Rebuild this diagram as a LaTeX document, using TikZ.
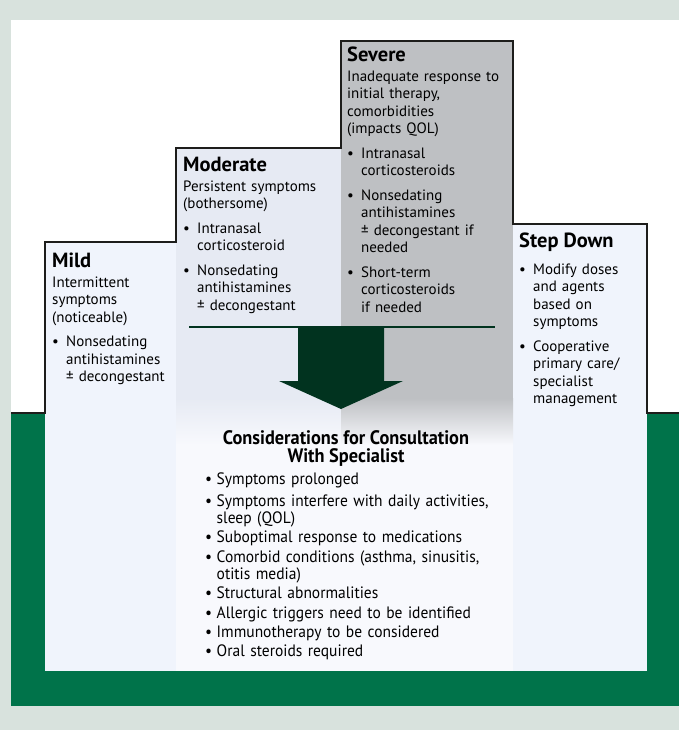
\documentclass[tikz,border=0pt]{standalone}
\usepackage{fontspec}
\setmainfont{PT Sans}
\newfontfamily\narrowfont[FakeStretch=0.94]{PT Sans}
\definecolor{bggray}{HTML}{D8E2DD}
\definecolor{panelgreen}{HTML}{00734A}
\definecolor{arrowgreen}{HTML}{01331F}
\definecolor{mildblue}{HTML}{F0F4FC}
\definecolor{modblue}{HTML}{E6EAF3}
\definecolor{sevgray}{HTML}{BEC0C3}
\definecolor{lowwhite}{HTML}{F8F9FD}
\definecolor{stairline}{HTML}{1D1D1B}
\newcommand{\coltitle}[1]{\noindent{\fontsize{20.5}{21}\selectfont\bfseries #1}\par\vspace{2pt}}
\newcommand{\bitem}{\vspace{7pt}\hangindent=14pt\hangafter=1\noindent\makebox[14pt][l]{\textbullet}}
\newcommand{\citem}{\vspace{2pt}\hangindent=11.5pt\hangafter=1\noindent\makebox[11.5pt][l]{\textbullet}}
\begin{document}
\begin{tikzpicture}[x=1pt,y=-1pt,
  coltext/.style={anchor=north west,inner sep=0pt,text width=#1,align=left,
    font=\fontsize{15}{17.5}\selectfont},
  constext/.style={anchor=north west,inner sep=0pt,text width=300pt,align=left,
    font=\narrowfont\fontsize{16.5}{17.3}\selectfont}]
\useasboundingbox (0,0) rectangle (679,730);
\fill[bggray] (0,0) rectangle (679,730);
\fill[white] (11,20) rectangle (679,413);
\fill[panelgreen] (11,413) rectangle (679,706);

\fill[mildblue] (45,242) rectangle (176,671);
\fill[mildblue] (513,224) rectangle (647,671);
\fill[modblue] (176,148) rectangle (341,398);
\fill[sevgray] (341,41) rectangle (513,398);
\shade[top color=modblue,bottom color=lowwhite] (176,398) rectangle (341,445);
\shade[top color=sevgray,bottom color=lowwhite] (341,398) rectangle (513,445);
\fill[lowwhite] (176,445) rectangle (513,671);

\draw[stairline,line width=2.5pt] (11,413) -- (45,413) -- (45,242) -- (176,242)
  -- (176,148) -- (341,148) -- (341,41) -- (513,41) -- (513,224) -- (647,224)
  -- (647,413) -- (679,413);

\draw[arrowgreen,line width=2pt] (189,327) -- (495,327);
\fill[arrowgreen] (298,327) -- (384,327) -- (384,381) -- (403,381) -- (341,409)
  -- (279,381) -- (298,381) -- cycle;

\node[coltext=122pt] (mild) at (52,253) {\coltitle{Mild}
\noindent Intermittent\newline symptoms\newline (noticeable)\par
\bitem Nonsedating\newline antihistamines\newline ± decongestant\par};

\node[coltext=155pt] (moderate) at (183,157) {\coltitle{Moderate}
\noindent Persistent symptoms\newline (bothersome)\par
\bitem Intranasal\newline corticosteroid\par
\bitem Nonsedating\newline antihistamines\newline ± decongestant\par};

\node[coltext=162pt] (severe) at (347,47) {\coltitle{Severe}
\noindent Inadequate response to\newline initial therapy,\newline comorbidities\newline (impacts QOL)\par
\bitem Intranasal\newline corticosteroids\par
\bitem Nonsedating\newline antihistamines\newline ± decongestant if\newline needed\par
\bitem Short-term\newline corticosteroids\newline if needed\par};

\node[coltext=126pt] (stepdown) at (519,233) {\coltitle{Step Down}
\bitem Modify doses\newline and agents\newline based on\newline symptoms\par
\bitem Cooperative\newline primary care/\newline specialist\newline management\par};

\node[anchor=north,inner sep=0pt,align=center,
  font=\narrowfont\fontsize{19.5}{18}\selectfont\bfseries] (constitle) at (346,430)
  {Considerations for Consultation\\With Specialist};

\node[constext] (conslist) at (205,473) {%
\citem Symptoms prolonged\par
\citem Symptoms interfere with daily activities,\newline sleep (QOL)\par
\citem Suboptimal response to medications\par
\citem Comorbid conditions (asthma, sinusitis,\newline otitis media)\par
\citem Structural abnormalities\par
\citem Allergic triggers need to be identified\par
\citem Immunotherapy to be considered\par
\citem Oral steroids required\par};
\end{tikzpicture}
\end{document}
